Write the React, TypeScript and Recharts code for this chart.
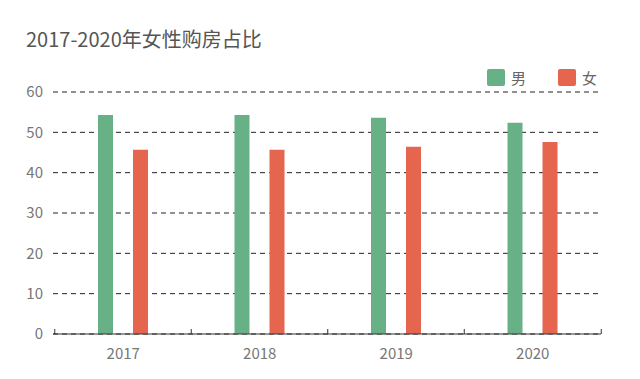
import React from 'react';
import { BarChart, Bar, XAxis, YAxis, CartesianGrid } from 'recharts';

const years = ['2017', '2018', '2019', '2020'];
const male = [54.3, 54.3, 53.6, 52.4];
const female = [45.7, 45.7, 46.4, 47.6];
const yTicks = [0, 10, 20, 30, 40, 50, 60];

const data = years.map((year, i) => ({ year, male: male[i], female: female[i] }));

const FONT = "'Noto Sans CJK SC', 'Noto Sans', sans-serif";
const GREEN = '#68b086';
const RED = '#e6654f';

// x tick: label in the middle, small upward marks on category boundaries
const YearTick = (props: any) => {
  const { x, y, payload, index, visibleTicksCount } = props;
  const band = 137;
  const axisY = y - 8;
  const isLast = index === visibleTicksCount - 1;
  return (
    <g>
      <line x1={x - band / 2} x2={x - band / 2} y1={axisY} y2={axisY - 5} stroke="#333" />
      {isLast && <line x1={x + band / 2} x2={x + band / 2} y1={axisY} y2={axisY - 5} stroke="#333" />}
      <text x={x} y={y + 17} textAnchor="middle" fill="#777" fontSize={15} fontFamily={FONT}>
        {payload.value}
      </text>
    </g>
  );
};

const LegendItem = ({ color, label, left }: { color: string; label: string; left: number }) => (
  <div style={{ position: 'absolute', left, top: 69, display: 'flex', alignItems: 'center' }}>
    <div style={{ width: 18, height: 17, background: color, borderRadius: 2 }} />
    <span style={{ marginLeft: 6, fontSize: 15, color: '#666', lineHeight: '17px' }}>{label}</span>
  </div>
);

export default function App() {
  return (
    <div style={{ position: 'relative', width: 640, height: 379, background: '#fff', fontFamily: FONT }}>
      <style>{`body{margin:0}`}</style>
      <div style={{ position: 'absolute', left: 26, top: 24, fontSize: 20, color: '#555' }}>
        2017-2020年女性购房占比
      </div>
      <LegendItem color={GREEN} label="男" left={487} />
      <LegendItem color={RED} label="女" left={558} />
      <BarChart
        width={640}
        height={379}
        data={data}
        margin={{ top: 92, right: 39, left: 0, bottom: 15 }}
        barSize={15}
        barGap={20}
      >
        <CartesianGrid vertical={false} stroke="#222" strokeDasharray="5 4" />
        <XAxis
          dataKey="year"
          axisLine={{ stroke: '#333' }}
          tickLine={false}
          tickSize={6}
          tickMargin={2}
          tick={<YearTick />}
          interval={0}
          height={30}
          padding={{ left: 2, right: 0 }}
        />
        <YAxis
          domain={[0, 60]}
          ticks={yTicks}
          axisLine={false}
          tickLine={false}
          tickSize={8}
          tickMargin={2}
          width={53}
          tick={{ fill: '#777', fontSize: 15, fontFamily: FONT }}
        />
        <Bar dataKey="male" name="男" fill={GREEN} isAnimationActive={false} />
        <Bar dataKey="female" name="女" fill={RED} isAnimationActive={false} />
      </BarChart>
    </div>
  );
}
